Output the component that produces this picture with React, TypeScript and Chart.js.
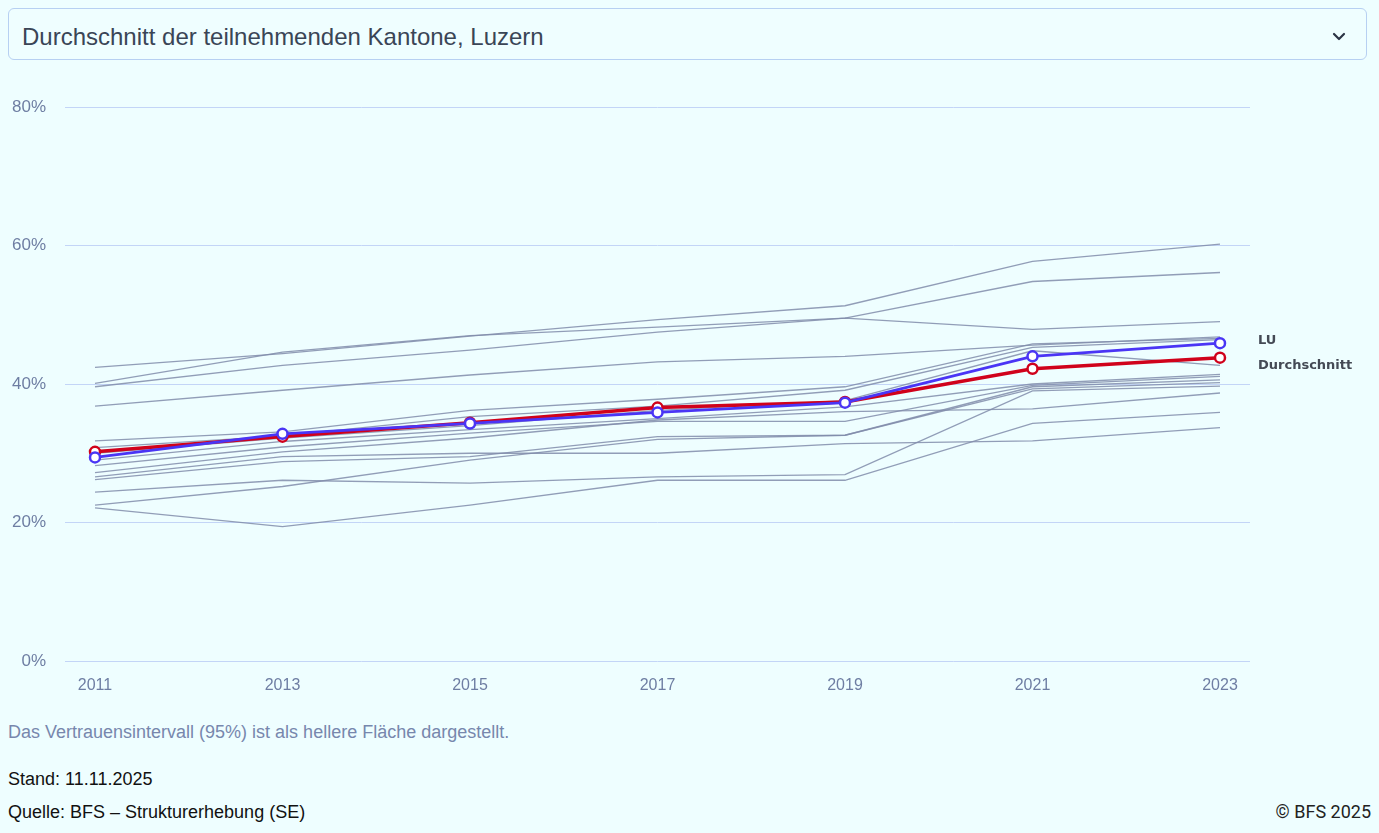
import React, { useEffect, useRef } from "react";
import { Chart, registerables } from "chart.js";

Chart.register(...registerables);

const years = [2011, 2013, 2015, 2017, 2019, 2021, 2023];
const yTicks = [0, 20, 40, 60, 80];

const luValues = [29.4, 32.8, 34.3, 35.9, 37.3, 44.0, 45.9];
const avgValues = [30.2, 32.4, 34.4, 36.6, 37.4, 42.2, 43.8];

const cantonNames = ["K01", "K02", "K03", "K04", "K05", "K06", "K07", "K08", "K09", "K10", "K11", "K12", "K13", "K14", "K15"];
const cantonValues = [
  [42.4, 44.4, 46.9, 49.3, 51.3, 57.7, 60.2],
  [39.6, 42.7, 44.9, 47.5, 49.5, 54.8, 56.1],
  [40.1, 44.6, 47.0, 48.2, 49.5, 47.9, 49.0],
  [36.8, 39.1, 41.3, 43.2, 44.0, 45.6, 46.8],
  [31.8, 33.1, 36.2, 37.8, 39.6, 45.8, 46.6],
  [30.8, 32.5, 35.3, 36.8, 39.1, 45.3, 46.4],
  [30.0, 32.2, 34.0, 36.2, 37.6, 44.8, 42.7],
  [29.0, 31.7, 33.4, 35.0, 36.7, 40.0, 41.4],
  [28.2, 30.9, 32.9, 34.6, 34.6, 39.8, 41.1],
  [27.2, 30.2, 32.2, 34.8, 36.0, 36.4, 38.7],
  [26.6, 29.5, 30.0, 30.0, 31.4, 31.8, 33.7],
  [26.2, 28.8, 29.5, 32.4, 32.6, 39.3, 40.2],
  [22.5, 25.2, 29.0, 32.0, 32.6, 39.6, 40.6],
  [24.4, 26.1, 25.7, 26.6, 26.9, 39.0, 39.7],
  [22.1, 19.4, 22.5, 26.1, 26.1, 34.3, 35.9],
];

const FONT = "'Liberation Sans', Arial, sans-serif";

const endLabels = {
  id: "endLabels",
  afterDatasetsDraw(chart: any) {
    const ctx = chart.ctx;
    ctx.save();
    ctx.font = "bold 13px 'DejaVu Sans', sans-serif";
    ctx.fillStyle = "#444a55";
    ctx.textBaseline = "middle";
    ctx.textAlign = "left";
    const specs = [
      { idx: 0, dy: -3 },
      { idx: 1, dy: 8 },
    ];
    specs.forEach((s) => {
      const meta = chart.getDatasetMeta(s.idx);
      const pts = meta.data;
      const last = pts[pts.length - 1];
      if (!last) return;
      ctx.fillText(chart.data.datasets[s.idx].label, chart.chartArea.right + 8, last.y + s.dy);
    });
    ctx.restore();
  },
};

function ChartView() {
  const ref = useRef<HTMLCanvasElement | null>(null);
  useEffect(() => {
    if (!ref.current) return;
    const toXY = (vals: number[]) => vals.map((v, i) => ({ x: years[i], y: v }));
    const grayDatasets = cantonValues.map((vals, i) => ({
      label: cantonNames[i],
      data: toXY(vals),
      borderColor: "rgba(128,140,170,0.85)",
      borderWidth: 1.3,
      pointRadius: 0,
      order: 10,
    }));
    const chart = new Chart(ref.current, {
      type: "line",
      data: {
        datasets: [
          {
            label: "LU",
            data: toXY(luValues),
            borderColor: "#4a35f5",
            borderWidth: 2.8,
            pointRadius: 5,
            pointBorderWidth: 2.5,
            pointBackgroundColor: "#ffffff",
            pointBorderColor: "#4a35f5",
            order: 1,
          },
          {
            label: "Durchschnitt",
            data: toXY(avgValues),
            borderColor: "#d0021b",
            borderWidth: 3.5,
            pointRadius: 5,
            pointBorderWidth: 2.5,
            pointBackgroundColor: "#ffffff",
            pointBorderColor: "#d0021b",
            order: 2,
          },
          ...grayDatasets,
        ],
      },
      options: {
        animation: false,
        responsive: false,
        maintainAspectRatio: false,
        events: [],
        layout: { padding: { left: 0, right: 129, top: 37, bottom: 0 } },
        plugins: { legend: { display: false }, tooltip: { enabled: false } },
        scales: {
          x: {
            type: "linear",
            min: 2010.68,
            max: 2023.32,
            grid: { display: false },
            border: { display: false },
            afterBuildTicks: (s: any) => {
              s.ticks = years.map((v) => ({ value: v }));
            },
            afterFit: (s: any) => {
              s.height = 39;
            },
            ticks: {
              padding: 7,
              color: "#6e7ea3",
              font: { family: FONT, size: 16 },
              callback: (v: any) => String(v),
            },
          },
          y: {
            min: 0,
            max: 80,
            afterBuildTicks: (s: any) => {
              s.ticks = yTicks.map((v) => ({ value: v }));
            },
            afterFit: (s: any) => {
              s.width = 65;
            },
            grid: { color: "#c3d5f7", lineWidth: 1, drawTicks: false },
            border: { display: false },
            ticks: {
              padding: 19,
              color: "#6e7ea3",
              font: { family: FONT, size: 17 },
              callback: (v: any) => v + "%",
            },
          },
        },
      },
      plugins: [endLabels],
    });
    return () => chart.destroy();
  }, []);
  return (
    <canvas
      ref={ref}
      width={1379}
      height={630}
      style={{ position: "absolute", left: 0, top: 70, width: 1379, height: 630 }}
    />
  );
}

export default function App() {
  useEffect(() => {
    document.body.style.margin = "0";
    document.body.style.background = "#eefeff";
    document.body.style.overflow = "hidden";
  }, []);
  const foot = { position: "absolute" as const, left: 8, fontSize: 18, lineHeight: "20px", whiteSpace: "nowrap" as const };
  return (
    <div style={{ position: "relative", width: 1379, height: 833, background: "#eefeff", fontFamily: FONT, overflow: "hidden" }}>
      <div
        style={{
          position: "absolute",
          left: 8,
          top: 8,
          width: 1357,
          height: 50,
          border: "1px solid #b7d0f2",
          borderRadius: 6,
          background: "#effeff",
          boxSizing: "content-box",
        }}
      >
        <div style={{ position: "absolute", left: 13, top: 14, fontSize: 24, lineHeight: "28px", color: "#3a4556", fontFamily: FONT, whiteSpace: "nowrap" }}>
          Durchschnitt der teilnehmenden Kantone, Luzern
        </div>
        <svg style={{ position: "absolute", left: 1323, top: 23 }} width="14" height="10" viewBox="0 0 14 10">
          <path d="M2 2 L7 7 L12 2" fill="none" stroke="#2b3445" strokeWidth="2.2" strokeLinecap="round" strokeLinejoin="round" />
        </svg>
      </div>
      <ChartView />
      <div style={{ ...foot, top: 722, color: "#7787ad" }}>
        Das Vertrauensintervall (95%) ist als hellere Fläche dargestellt.
      </div>
      <div style={{ ...foot, top: 769, color: "#111" }}>Stand: 11.11.2025</div>
      <div style={{ ...foot, top: 802, color: "#111" }}>Quelle: BFS – Strukturerhebung (SE)</div>
      <div style={{ ...foot, left: "auto", right: 8, top: 802, color: "#222", fontFamily: "Roboto, sans-serif" }}>
        © BFS 2025
      </div>
    </div>
  );
}
